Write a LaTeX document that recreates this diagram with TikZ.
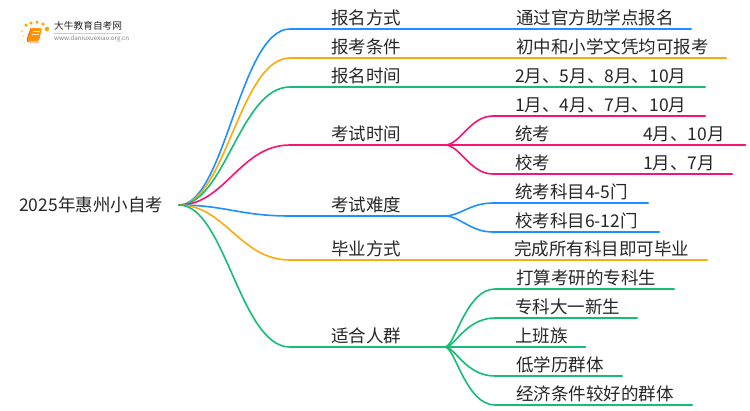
\documentclass[tikz,border=0pt]{standalone}
\usepackage{fontspec}
\setmainfont{Noto Sans CJK SC}
\definecolor{bblue}{RGB}{30,144,255}
\definecolor{borange}{RGB}{255,170,10}
\definecolor{bgreen}{RGB}{20,190,115}
\definecolor{bpink}{RGB}{245,20,115}
\definecolor{ink}{RGB}{38,38,38}
\begin{document}
\begin{tikzpicture}[x=1pt, y=-1pt, font=\fontsize{17.5}{20}\selectfont, text=ink,
	lbl/.style={anchor=south west, inner sep=0pt, text height=14pt, text depth=4.5pt, align=left},
	branch/.style={line width=1.6pt, line cap=round},
	dot/.style={circle, inner sep=0pt, fill=orange!70!yellow}]
	\useasboundingbox (0,0) rectangle (750,410);

	\path (19, 205) node[anchor=west, inner sep=0pt] (root){2025年惠州小自考}
	(179, 205) coordinate (start)
	(331, 29) node[lbl, text width=70pt] (fs){报名方式}
	(331, 58) node[lbl, text width=70pt] (tj){报考条件}
	(331, 87) node[lbl, text width=70pt] (sj){报名时间}
	(331, 145) node[lbl, text width=70pt] (ks){考试时间}
	(331, 216) node[lbl, text width=70pt] (nd){考试难度}
	(331, 260) node[lbl, text width=70pt] (by){毕业方式}
	(331, 347) node[lbl, text width=70pt] (rq){适合人群}
	(516, 29) node[lbl, text width=175pt] (fs1){通过官方助学点报名}
	(516, 58) node[lbl, text width=210pt] (tj1){初中和小学文凭均可报考}
	(515, 87) node[lbl, text width=190pt] (sj1){2月、5月、8月、10月}
	(515, 116) node[lbl, text width=190pt] (ks1){1月、4月、7月、10月}
	(515, 145) node[lbl, text width=230pt] (ks2){统考}
	(515, 174) node[lbl, text width=217pt] (ks3){校考}
	(643, 145) node[lbl] (ks2a){4月、10月}
	(643, 174) node[lbl] (ks3a){1月、7月}
	(515, 203) node[lbl, text width=133pt] (nd1){统考科目4-5门}
	(515, 232) node[lbl, text width=144pt] (nd2){校考科目6-12门}
	(514, 260) node[lbl, text width=193pt] (by1){完成所有科目即可毕业}
	(516, 289) node[lbl, text width=158pt] (rq1){打算考研的专科生}
	(515, 318) node[lbl, text width=122pt] (rq2){专科大一新生}
	(515, 347) node[lbl, text width=70pt] (rq3){上班族}
	(516, 376) node[lbl, text width=106pt] (rq4){低学历群体}
	(516, 405) node[lbl, text width=176pt] (rq5){经济条件较好的群体};

	\draw[branch, bblue] (start) .. controls (225,205) and (240,29) .. (290,29) -- (fs.south west) -- (fs1.south east);
	\draw[branch, borange] (start) .. controls (225,205) and (240,58) .. (290,58) -- (tj.south west) -- (tj1.south east);
	\draw[branch, bgreen] (start) .. controls (225,205) and (240,87) .. (290,87) -- (sj.south west) -- (sj1.south east);
	\draw[branch, bpink] (start) .. controls (225,205) and (240,145) .. (290,145) -- (ks.south west) -- (445,145) coordinate (ksf);
	\draw[branch, bpink] (ksf) .. controls (460,145) and (470,116) .. (493,116) -- (ks1.south east);
	\draw[branch, bpink] (ksf) -- (ks2.south east);
	\draw[branch, bpink] (ksf) .. controls (460,145) and (470,174) .. (493,174) -- (ks3.south east);
	\draw[branch, bblue] (start) .. controls (225,205) and (240,216) .. (290,216) -- (nd.south west) -- (445,216) coordinate (ndf);
	\draw[branch, bblue] (ndf) .. controls (460,216) and (470,203) .. (493,203) -- (nd1.south east);
	\draw[branch, bblue] (ndf) .. controls (460,216) and (470,232) .. (493,232) -- (nd2.south east);
	\draw[branch, borange] (start) .. controls (225,205) and (240,260) .. (290,260) -- (by.south west) -- (by1.south east);
	\draw[branch, bgreen] (start) .. controls (225,205) and (240,347) .. (290,347) -- (rq.south west) -- (445,347) coordinate (rqf);
	\draw[branch, bgreen] (rqf) .. controls (455,347) and (466,289) .. (495,289) -- (rq1.south east);
	\draw[branch, bgreen] (rqf) .. controls (455,347) and (466,318) .. (495,318) -- (rq2.south east);
	\draw[branch, bgreen] (rqf) -- (rq3.south east);
	\draw[branch, bgreen] (rqf) .. controls (455,347) and (466,376) .. (495,376) -- (rq4.south east);
	\draw[branch, bgreen] (rqf) .. controls (455,347) and (466,405) .. (495,405) -- (rq5.south east);

	\path (54, 26) node[anchor=west, inner sep=0pt, font=\fontsize{9.7}{11}\selectfont] (logo){大牛教育自考网}
	(54, 38.5) node[anchor=west, inner sep=0pt, font=\fontsize{6.2}{7}\selectfont, text=gray] (url){www.daniuxuexiao.org.cn}
	(26, 25) node[dot, minimum size=3.5pt] (d1){}
	(31, 23) node[dot, minimum size=3.5pt] (d2){}
	(37, 22) node[dot, minimum size=3.5pt] (d3){}
	(43, 24) node[dot, minimum size=3.5pt] (d4){}
	(47, 29) node[dot, minimum size=4.5pt] (d5){}
	(22, 31) node[dot, minimum size=2.5pt, opacity=.5] (d6){}
	(23, 36) node[dot, minimum size=2pt, opacity=.4] (d7){}
	(24, 42) node[dot, minimum size=2pt, opacity=.3] (d8){};
	\draw[gray!40, line width=.5pt] (54, 33) -- (121, 33);
	\fill[orange!85!yellow, rounded corners=1.5pt] (31, 28) -- (42, 28) -- (39, 41) -- (27, 41) -- cycle;
	\draw[orange!70!red, line width=.8pt, rounded corners=1pt] (31, 28) -- (27, 40) -- (28, 42) -- (39, 42);
	\draw[white!80!orange, line width=.6pt] (33, 31) -- (40, 31) (32, 34) -- (39, 34);
\end{tikzpicture}
\end{document}
